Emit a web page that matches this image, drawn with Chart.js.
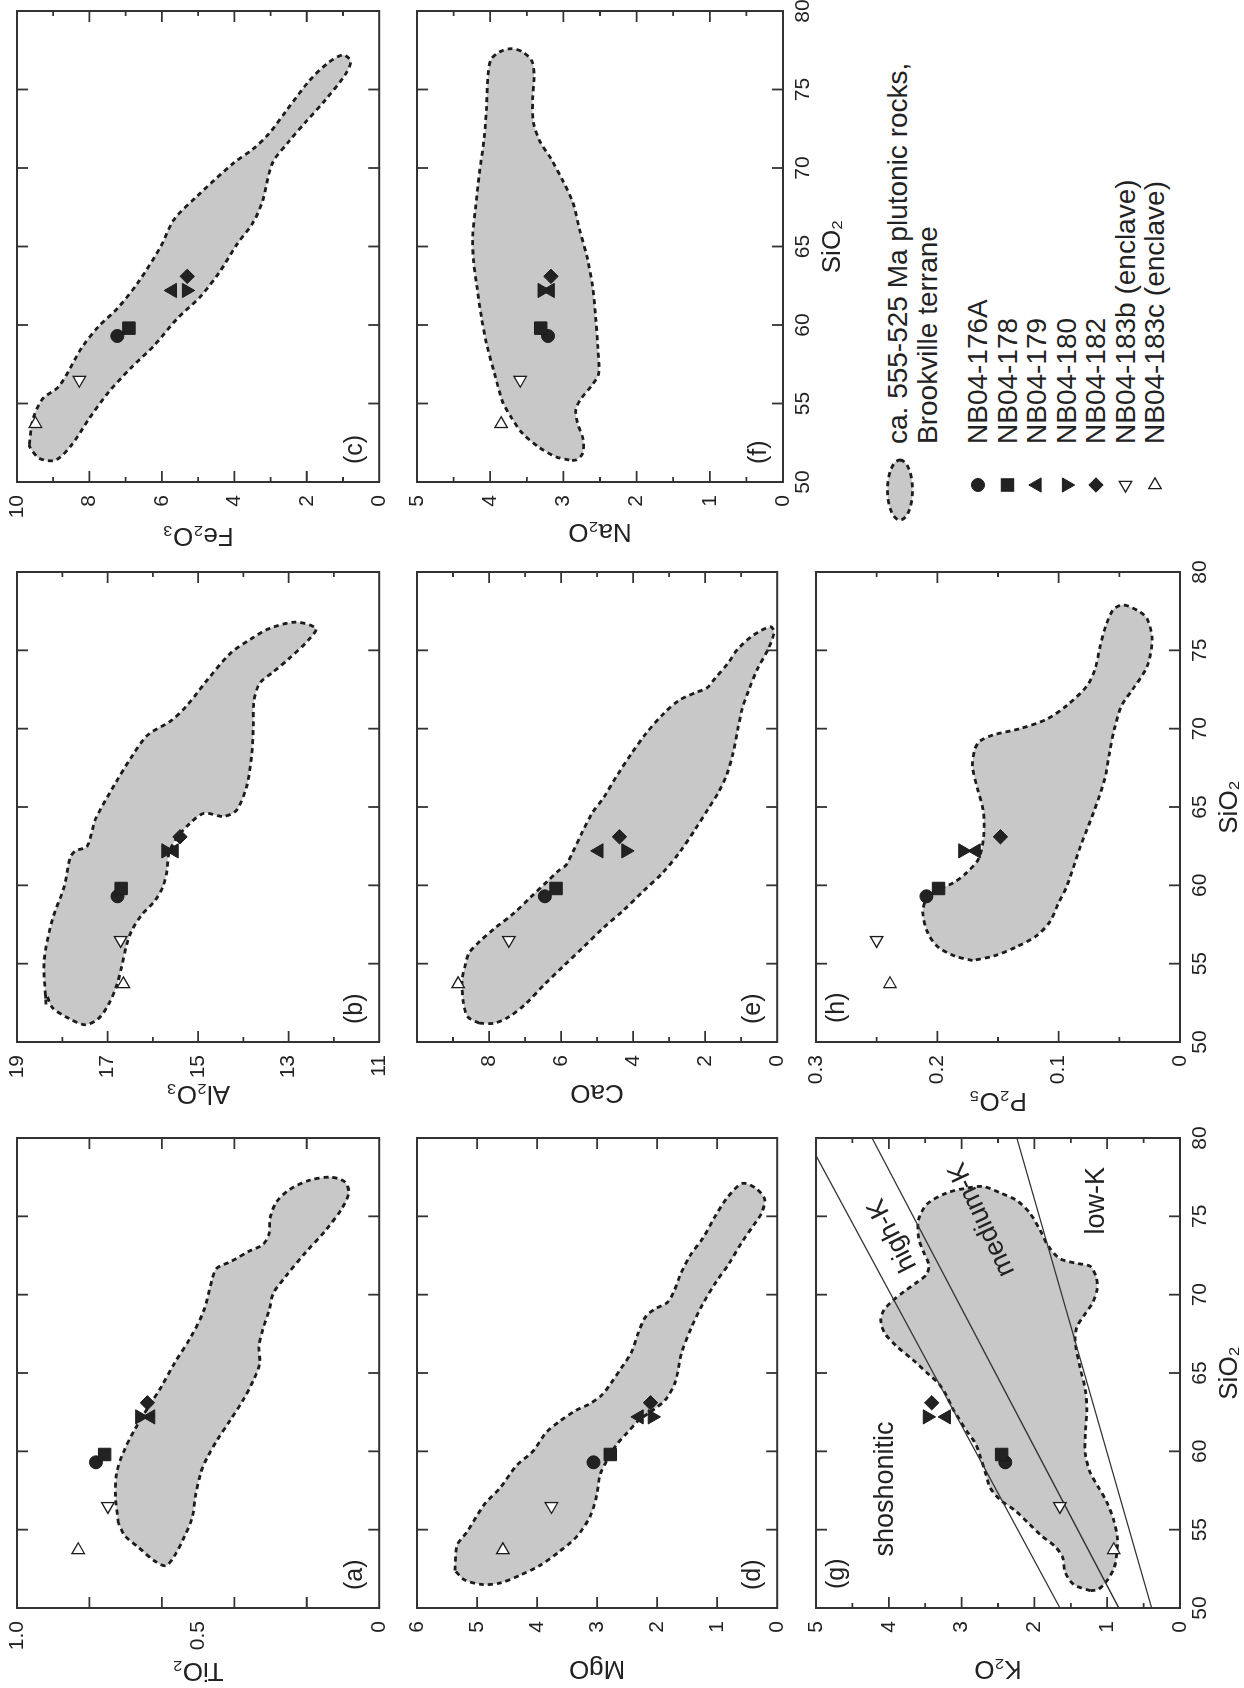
<!DOCTYPE html>
<html><head><meta charset="utf-8">
<script src="https://cdn.jsdelivr.net/npm/chart.js@4.4.1/dist/chart.umd.min.js"></script>
<style>
html,body{margin:0;padding:0;background:#fff;overflow:hidden;width:1244px;height:1688px;}
#fig{position:absolute;left:0;top:0;width:1688px;height:1244px;transform-origin:0 0;transform:translate(0,1688px) rotate(-90deg);font-family:"Liberation Sans",Arial,Helvetica,sans-serif;color:#222;background:#fff;}
.lg{position:absolute;font-size:28px;line-height:30px;white-space:nowrap;color:#222;}
</style></head><body><div id="fig"></div>
<script>
// ---------------- DATA ----------------
const sampleNames = ['NB04-176A','NB04-178','NB04-179','NB04-180','NB04-182','NB04-183b (enclave)','NB04-183c (enclave)'];
const sio2  = [59.3, 59.8, 62.2, 62.2, 63.1, 56.5, 53.7];
const tio2  = [0.782, 0.758, 0.631, 0.661, 0.640, 0.749, 0.831];
const al2o3 = [16.78, 16.70, 15.53, 15.71, 15.40, 16.71, 16.65];
const fe2o3 = [7.23, 6.91, 5.71, 5.32, 5.30, 8.28, 9.49];
const mgo   = [3.06, 2.78, 2.30, 2.08, 2.11, 3.76, 4.57];
const cao   = [6.45, 6.14, 4.95, 4.20, 4.38, 7.45, 8.86];
const na2o  = [3.21, 3.31, 3.18, 3.29, 3.17, 3.59, 3.85];
const k2o   = [2.40, 2.45, 3.21, 3.47, 3.41, 1.65, 0.91];
const p2o5  = [0.209, 0.199, 0.168, 0.179, 0.148, 0.250, 0.239];

const fieldName = ['ca. 555-525 Ma plutonic rocks,', 'Brookville terrane'];
// field outlines of ca. 555-525 Ma plutonic rocks: [SiO2, oxide]
const fieldTiO2 = [[55.4,0.720],[57.1,0.728],[58.6,0.725],[59.9,0.707],[61.4,0.675],[62.8,0.638],[64.1,0.602],[65.6,0.566],[67.3,0.520],[69.0,0.484],[71.0,0.461],[71.7,0.448],[72.1,0.411],[72.8,0.357],[73.2,0.321],[73.9,0.304],[74.9,0.301],[75.9,0.284],[76.7,0.248],[77.3,0.193],[77.5,0.134],[77.2,0.095],[76.5,0.084],[75.5,0.103],[74.1,0.148],[72.7,0.203],[71.2,0.257],[70.1,0.292],[69.0,0.304],[67.8,0.321],[66.7,0.332],[65.6,0.330],[64.6,0.346],[63.3,0.375],[62.0,0.411],[60.7,0.448],[59.6,0.475],[58.6,0.493],[57.2,0.507],[55.8,0.516],[54.5,0.539],[53.3,0.566],[52.7,0.589],[53.0,0.620],[53.9,0.666],[54.6,0.702]];
const fieldAl2O3 = [[52.4,18.36],[55.2,18.40],[57.8,18.22],[59.9,17.96],[61.8,17.82],[62.2,17.71],[62.5,17.45],[64.2,17.27],[66.5,16.83],[68.2,16.47],[69.6,16.11],[70.5,15.60],[71.5,15.24],[73.1,14.80],[74.8,14.29],[75.7,13.85],[76.4,13.42],[76.8,12.84],[76.4,12.40],[75.7,12.55],[74.5,12.98],[73.6,13.35],[72.9,13.64],[71.7,13.77],[70.1,13.78],[68.2,13.82],[66.3,13.93],[64.8,14.15],[64.4,14.44],[64.6,14.87],[63.9,15.20],[63.1,15.45],[62.1,15.64],[60.9,15.69],[59.9,15.78],[59.0,15.96],[58.1,16.25],[57.1,16.47],[56.2,16.58],[54.8,16.69],[53.6,16.80],[52.4,16.98],[51.5,17.20],[51.1,17.49],[51.5,17.85],[52.2,18.22],[53.1,18.36]];
const fieldFe2O3 = [[52.4,9.66],[54.0,9.56],[55.3,9.29],[56.1,8.84],[58.6,8.20],[59.9,7.75],[61.1,7.21],[62.7,6.66],[65.0,6.03],[66.7,5.67],[68.2,5.03],[70.3,4.03],[71.2,3.49],[72.2,3.04],[73.6,2.58],[75.5,1.95],[76.7,1.41],[77.2,1.00],[76.8,0.79],[75.9,0.95],[74.3,1.50],[72.9,2.04],[71.7,2.49],[70.3,2.95],[67.9,3.22],[66.5,3.49],[65.1,3.94],[63.4,4.40],[61.8,4.94],[60.4,5.58],[58.7,6.21],[57.3,6.84],[55.7,7.48],[54.0,8.02],[52.4,8.48],[51.4,8.93],[51.5,9.38],[52.2,9.64]];
const fieldMgO = [[52.4,5.37],[54.0,5.33],[54.9,5.16],[56.6,4.88],[57.7,4.61],[59.1,4.34],[60.0,4.07],[61.2,3.85],[61.9,3.63],[62.6,3.36],[63.0,3.14],[63.6,2.92],[64.4,2.76],[65.3,2.60],[66.3,2.43],[67.5,2.32],[68.6,2.19],[69.1,2.03],[69.5,1.83],[70.2,1.72],[71.3,1.61],[72.5,1.45],[73.6,1.24],[74.9,1.05],[76.2,0.83],[77.1,0.58],[76.8,0.36],[76.1,0.21],[75.2,0.26],[74.5,0.38],[73.4,0.58],[72.0,0.80],[70.8,1.02],[69.4,1.24],[67.9,1.43],[66.3,1.59],[64.4,1.70],[63.3,1.86],[62.6,2.08],[62.0,2.30],[61.1,2.52],[60.4,2.68],[59.6,2.81],[58.5,2.95],[57.3,3.00],[55.9,3.11],[54.6,3.33],[53.6,3.63],[52.7,3.96],[52.1,4.28],[51.6,4.61],[51.5,4.91],[51.8,5.21]];
const fieldCaO = [[51.2,8.27],[51.6,8.59],[52.5,8.71],[53.9,8.75],[55.0,8.65],[55.7,8.55],[56.4,8.27],[57.3,7.82],[58.2,7.32],[59.3,6.82],[60.3,6.36],[60.9,6.09],[61.3,5.86],[62.1,5.68],[63.4,5.41],[64.6,5.14],[65.6,4.82],[67.0,4.45],[68.4,4.05],[69.7,3.64],[70.9,3.18],[71.8,2.73],[72.3,2.27],[72.6,1.95],[73.2,1.73],[74.2,1.36],[75.1,1.09],[76.0,0.64],[76.5,0.18],[76.1,0.09],[75.0,0.27],[73.8,0.55],[72.4,0.80],[71.2,0.98],[70.0,1.09],[68.4,1.23],[67.0,1.41],[65.9,1.64],[64.9,1.91],[63.6,2.27],[62.2,2.68],[60.8,3.18],[59.6,3.73],[58.4,4.27],[57.3,4.82],[56.1,5.36],[54.9,5.91],[53.7,6.45],[52.4,7.00],[51.6,7.45],[51.2,7.86]];
const fieldNa2O = [[51.4,2.92],[51.6,3.10],[52.2,3.33],[53.1,3.56],[54.1,3.71],[55.1,3.83],[56.9,3.94],[58.8,4.05],[60.5,4.12],[62.4,4.18],[64.2,4.23],[65.6,4.24],[67.5,4.20],[69.6,4.15],[72.0,4.08],[73.9,4.05],[75.9,4.03],[76.9,3.99],[77.4,3.87],[77.6,3.71],[77.4,3.56],[76.8,3.43],[75.8,3.40],[74.4,3.42],[72.9,3.41],[71.6,3.31],[70.6,3.17],[69.2,3.01],[67.8,2.87],[66.1,2.78],[64.2,2.67],[62.4,2.60],[60.5,2.56],[58.6,2.53],[56.9,2.52],[56.1,2.62],[55.3,2.76],[54.6,2.83],[53.8,2.81],[52.7,2.73],[51.8,2.74],[51.4,2.83]];
const fieldK2O = [[51.1,1.23],[51.5,1.46],[52.3,1.58],[53.2,1.61],[53.9,1.71],[54.6,1.90],[55.4,2.08],[56.2,2.26],[56.9,2.47],[57.7,2.61],[58.6,2.67],[59.6,2.74],[60.5,2.81],[61.3,2.93],[62.1,3.04],[62.8,3.13],[63.5,3.20],[64.3,3.31],[64.9,3.45],[65.8,3.66],[66.7,3.89],[67.5,4.05],[68.3,4.11],[69.0,4.07],[69.6,3.95],[70.2,3.79],[70.8,3.61],[71.3,3.48],[71.9,3.45],[72.7,3.52],[73.6,3.59],[74.8,3.59],[75.8,3.47],[76.5,3.20],[76.8,2.93],[76.9,2.70],[76.5,2.47],[76.0,2.24],[75.2,2.06],[74.1,1.92],[73.1,1.81],[72.3,1.65],[72.0,1.42],[71.8,1.23],[71.1,1.15],[70.3,1.14],[69.4,1.21],[68.6,1.33],[67.9,1.42],[67.0,1.44],[65.3,1.37],[63.9,1.30],[62.6,1.28],[61.2,1.30],[59.8,1.30],[58.6,1.23],[57.7,1.12],[56.8,1.01],[55.6,0.91],[54.5,0.86],[53.4,0.87],[52.5,0.91],[51.7,1.01],[51.2,1.12]];
const fieldP2O5 = [[55.2,0.171],[55.5,0.186],[56.1,0.200],[57.0,0.208],[58.2,0.212],[59.0,0.210],[59.5,0.205],[59.8,0.197],[60.2,0.186],[60.8,0.176],[61.7,0.166],[63.0,0.162],[64.7,0.162],[66.2,0.167],[67.6,0.171],[68.7,0.169],[69.2,0.165],[69.6,0.154],[70.0,0.132],[70.6,0.110],[71.5,0.093],[72.7,0.077],[73.8,0.070],[75.2,0.066],[76.6,0.061],[77.6,0.055],[77.9,0.047],[77.5,0.034],[77.0,0.027],[75.7,0.023],[74.0,0.027],[72.5,0.039],[71.5,0.048],[70.0,0.054],[68.5,0.058],[66.8,0.062],[64.7,0.071],[62.5,0.082],[60.0,0.093],[58.9,0.100],[57.7,0.107],[56.8,0.118],[56.1,0.134],[55.5,0.153]];

// K2O classification boundaries [SiO2, K2O]
const k2oDivides = [[[50,1.65],[80,5.13]], [[50,0.84],[80,4.23]], [[50,0.39],[80,2.24]]];
const k2oSeriesNames = ['shoshonitic','high-K','medium-K','low-K'];

// tick labels
const siLabels = [50,55,60,65,70,75,80];
const tiLabels = [0,0.5,1.0];
const alLabels = [11,13,15,17,19];
const feLabels = [0,2,4,6,8,10];
const mgLabels = [0,1,2,3,4,5,6];
const caLabels = [0,2,4,6,8];
const naLabels = [0,1,2,3,4,5];
const kLabels  = [0,1,2,3,4,5];
const pLabels  = [0,0.1,0.2,0.3];

// ---------------- STYLE / LAYOUT ----------------
const FONT = '"Liberation Sans", Arial, Helvetica, sans-serif';
const INK = '#222';
const TICKFONT = 21, TITLEFONT = 26;
const markers = [
  {style:'circle',   rot:0,   r:6.5, fill:INK},
  {style:'rect',     rot:0,   r:8.8, fill:INK},
  {style:'triangle', rot:0,   r:8.2, fill:INK},
  {style:'triangle', rot:180, r:8.2, fill:INK},
  {style:'rectRot',  rot:0,   r:7.2, fill:INK},
  {style:'triangle', rot:270, r:7.2, fill:'#fff'},
  {style:'triangle', rot:90,  r:7.2, fill:'#fff'}
];
const cols = [[80,550],[646,1116],[1206,1677]];
const rows = [[17,385],[417,783],[816,1180]];
const siMarks = [55,60,65,70,75];

const panels = [
  {tag:'(a)', title:'TiO₂',  vals:tio2,  field:fieldTiO2,  min:0,  max:1,   labels:tiLabels, major:[0.2,0.4,0.6,0.8], minor:[], col:0,row:0, gap:62, xl:false, tagPos:'bl', fmt:v=>v===0?'0':v.toFixed(1)},
  {tag:'(b)', title:'Al₂O₃', vals:al2o3, field:fieldAl2O3, min:11, max:19,  labels:alLabels, major:[13,15,17], minor:[12,14,16,18], col:1,row:0, gap:51, xl:false, tagPos:'bl', fmt:v=>String(v)},
  {tag:'(c)', title:'Fe₂O₃', vals:fe2o3, field:fieldFe2O3, min:0,  max:10,  labels:feLabels, major:[2,4,6,8], minor:[1,3,5,7,9], col:2,row:0, gap:53, xl:false, tagPos:'bl', fmt:v=>String(v)},
  {tag:'(d)', title:'MgO',   vals:mgo,   field:fieldMgO,   min:0,  max:6,   labels:mgLabels, major:[1,2,3,4,5], minor:[], col:0,row:1, gap:60, xl:false, tagPos:'bl', fmt:v=>String(v)},
  {tag:'(e)', title:'CaO',   vals:cao,   field:fieldCaO,   min:0,  max:10,  labels:caLabels, major:[2,4,6,8], minor:[1,3,5,7,9], col:1,row:1, gap:50, xl:false, tagPos:'bl', fmt:v=>String(v)},
  {tag:'(f)', title:'Na₂O',  vals:na2o,  field:fieldNa2O,  min:0,  max:5,   labels:naLabels, major:[1,2,3,4], minor:[0.5,1.5,2.5,3.5,4.5], col:2,row:1, gap:49, xl:true, tagPos:'bl', fmt:v=>String(v)},
  {tag:'(g)', title:'K₂O',   vals:k2o,   field:fieldK2O,   min:0,  max:5,   labels:kLabels,  major:[1,2,3,4], minor:[0.5,1.5,2.5,3.5,4.5], col:0,row:2, gap:60, xl:true, tagPos:'tl', fmt:v=>String(v),
    lines:k2oDivides,
    notes:[{i:0,x:57.6,y:4.05,rot:0},{i:1,x:73.8,y:3.95,rot:-27},{i:2,x:74.8,y:2.72,rot:-25},{i:3,x:76.0,y:1.14,rot:0}]},
  {tag:'(h)', title:'P₂O₅',  vals:p2o5,  field:fieldP2O5,  min:0,  max:0.3, labels:pLabels,  major:[0.1,0.2], minor:[0.05,0.15,0.25], col:1,row:2, gap:58, xl:true, tagPos:'tl', fmt:v=>v===0?'0':v.toFixed(1)}
];

const framePlugin = {
  id:'frame',
  afterDatasetsDraw(chart){
    const p = chart.options.plugins.frame;
    const {ctx, chartArea:{left,right,top,bottom}, scales:{x,y}} = chart;
    ctx.save();
    ctx.strokeStyle = '#333'; ctx.lineWidth = 2;
    ctx.strokeRect(left, top, right-left, bottom-top);
    ctx.lineWidth = 1.8;
    ctx.beginPath();
    for (const v of siMarks){ const px = x.getPixelForValue(v); ctx.moveTo(px,bottom); ctx.lineTo(px,bottom-11); ctx.moveTo(px,top); ctx.lineTo(px,top+11); }
    for (const v of p.major){ const py = y.getPixelForValue(v); ctx.moveTo(left,py); ctx.lineTo(left+11,py); ctx.moveTo(right,py); ctx.lineTo(right-11,py); }
    for (const v of p.minor){ const py = y.getPixelForValue(v); ctx.moveTo(left,py); ctx.lineTo(left+5,py); ctx.moveTo(right,py); ctx.lineTo(right-5,py); }
    ctx.stroke();
    ctx.fillStyle = INK; ctx.font = '25px ' + FONT; ctx.textAlign = 'left';
    if (p.tagPos === 'bl'){ ctx.textBaseline='alphabetic'; ctx.fillText(p.tag, left+18, bottom-17); }
    else { ctx.textBaseline='top'; ctx.fillText(p.tag, left+19, top+9); }
    if (p.notes){
      ctx.font = '27px ' + FONT; ctx.textAlign='center'; ctx.textBaseline='middle';
      for (const n of p.notes){
        ctx.save();
        ctx.translate(x.getPixelForValue(n.x), y.getPixelForValue(n.y));
        ctx.rotate(n.rot*Math.PI/180);
        ctx.fillText(k2oSeriesNames[n.i], 0, 0);
        ctx.restore();
      }
    }
    ctx.restore();
  }
};

const fig = document.getElementById('fig');
const closed = a => a.concat([a[0]]);

panels.forEach(p => {
  const [pl,pr] = cols[p.col], [pt,pb] = rows[p.row];
  const plotW = pr-pl, plotH = pb-pt;
  const padL=4, padT=14, padR=16, padB=4;
  const Wy = p.gap + 16;
  const Hx = p.xl ? 65 : 0;
  const cw = padL+Wy+plotW+padR, ch = padT+plotH+Hx+padB;
  const c = document.createElement('canvas');
  c.width = cw; c.height = ch;
  c.style.cssText = `position:absolute;left:${pl-Wy-padL}px;top:${pt-padT}px;width:${cw}px;height:${ch}px;`;
  fig.appendChild(c);

  const datasets = [];
  datasets.push({type:'line', data: closed(p.field).map(([sx,sy])=>({x:sx,y:sy})), showLine:true,
    borderColor:'#1c1c1c', borderWidth:2.8, borderDash:[5,4], backgroundColor:'#c8c8c8', fill:'shape',
    tension:0.3, pointRadius:0, order:3});
  (p.lines||[]).forEach(l => datasets.push({type:'line', data:l.map(([sx,sy])=>({x:sx,y:sy})), showLine:true,
    borderColor:'#333', borderWidth:1.3, pointRadius:0, fill:false, tension:0, order:2}));
  datasets.push({type:'scatter', data: sio2.map((s,i)=>({x:s, y:p.vals[i]})),
    pointStyle: markers.map(m=>m.style), pointRotation: markers.map(m=>m.rot), pointRadius: markers.map(m=>m.r),
    pointBackgroundColor: markers.map(m=>m.fill), pointBorderColor:'#1c1c1c', pointBorderWidth: markers.map(m=>m.fill==='#fff'?1.3:1),
    order:0});

  new Chart(c, {
    type:'scatter',
    data:{datasets},
    plugins:[framePlugin],
    options:{
      responsive:false, animation:false, devicePixelRatio:1, events:[],
      layout:{padding:{left:padL, top:padT, right:padR, bottom:padB}},
      plugins:{legend:{display:false}, tooltip:{enabled:false},
        frame:{major:p.major, minor:p.minor, tag:p.tag, tagPos:p.tagPos, notes:p.notes}},
      scales:{
        x:{type:'linear', position:'bottom', min:50, max:80,
          afterBuildTicks: s => { s.ticks = siLabels.map(v=>({value:v})); },
          afterFit: s => { s.height = Hx; s.paddingLeft = 0; s.paddingRight = 0; },
          grid:{display:false, drawTicks:false}, border:{display:false},
          ticks:{display:p.xl, padding:8, autoSkip:false, maxRotation:0, color:INK, font:{family:FONT, size:TICKFONT}},
          title:{display:p.xl, text:'SiO₂', color:INK, font:{family:FONT, size:TITLEFONT}, padding:{top:0,bottom:0}}
        },
        y:{type:'linear', position:'left', min:p.min, max:p.max,
          afterBuildTicks: s => { s.ticks = p.labels.map(v=>({value:v})); },
          afterFit: s => { s.width = Wy; s.paddingTop = 0; s.paddingBottom = 0; },
          grid:{display:false, drawTicks:false}, border:{display:false},
          ticks:{padding:13, autoSkip:false, color:INK, font:{family:FONT, size:TICKFONT}, callback: v => p.fmt(v)},
          title:{display:true, text:p.title, color:INK, font:{family:FONT, size:TITLEFONT}, padding:{top:0,bottom:0}}
        }
      }
    }
  });
});

// ---------------- LEGEND ----------------
const svgNS = 'http://www.w3.org/2000/svg';
const svg = document.createElementNS(svgNS,'svg');
svg.setAttribute('width','120'); svg.setAttribute('height','320');
svg.style.cssText = 'position:absolute;left:1150px;top:870px;overflow:visible;';
fig.appendChild(svg);
const ox = 1150, oy = 870;
const ell = document.createElementNS(svgNS,'ellipse');
ell.setAttribute('cx', 1198-ox); ell.setAttribute('cy', 900-oy); ell.setAttribute('rx', 30); ell.setAttribute('ry', 12.5);
ell.setAttribute('fill','#c8c8c8'); ell.setAttribute('stroke','#1c1c1c'); ell.setAttribute('stroke-width','2.8'); ell.setAttribute('stroke-dasharray','5 4');
svg.appendChild(ell);
fieldName.forEach((t,i) => {
  const d = document.createElement('div'); d.className='lg'; d.textContent=t;
  d.style.left='1244px'; d.style.top=(898+30*i-15)+'px'; fig.appendChild(d);
});
sampleNames.forEach((name,i) => {
  const m = markers[i], cx = 1203-ox, cy = 978 + 29.5*i - oy;
  let el;
  if (m.style==='circle'){ el = document.createElementNS(svgNS,'circle'); el.setAttribute('cx',cx); el.setAttribute('cy',cy); el.setAttribute('r',m.r); }
  else if (m.style==='rect'){ const s = m.r*Math.SQRT1_2; el = document.createElementNS(svgNS,'rect'); el.setAttribute('x',cx-s); el.setAttribute('y',cy-s); el.setAttribute('width',2*s); el.setAttribute('height',2*s); }
  else {
    const n = m.style==='triangle' ? 3 : 4; const pts=[];
    for (let k=0;k<n;k++){ const a=(m.rot + k*360/n)*Math.PI/180; pts.push((cx+m.r*Math.sin(a)).toFixed(2)+','+(cy-m.r*Math.cos(a)).toFixed(2)); }
    el = document.createElementNS(svgNS,'polygon'); el.setAttribute('points', pts.join(' '));
  }
  el.setAttribute('fill', m.fill); el.setAttribute('stroke','#1c1c1c'); el.setAttribute('stroke-width', m.fill==='#fff'?1.3:1);
  svg.appendChild(el);
  const d = document.createElement('div'); d.className='lg'; d.textContent=name;
  d.style.left='1244px'; d.style.top=(978+29.5*i-15)+'px'; fig.appendChild(d);
});
</script></body></html>
